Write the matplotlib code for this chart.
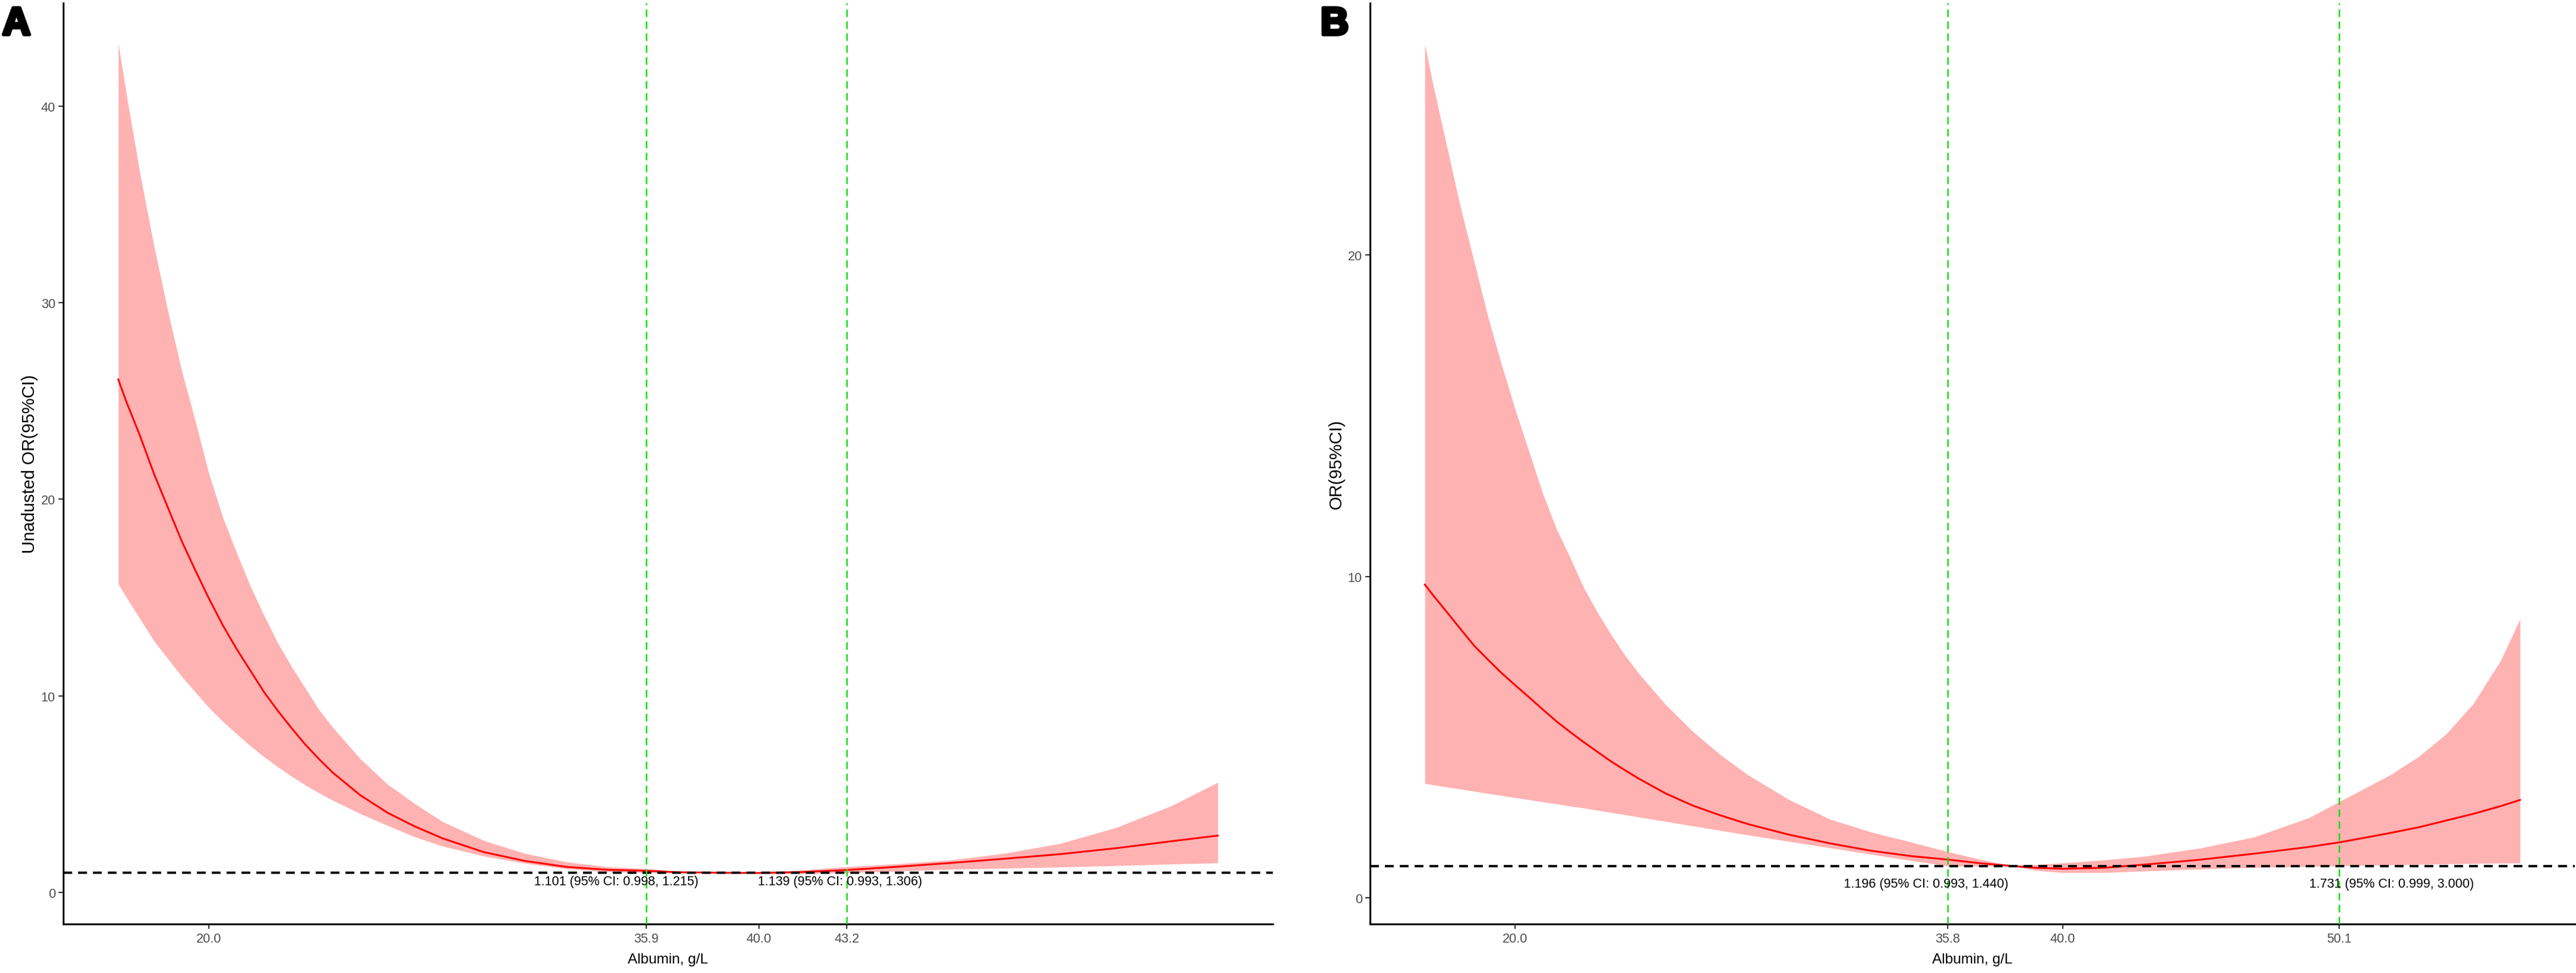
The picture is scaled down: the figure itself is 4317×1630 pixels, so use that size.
import matplotlib
matplotlib.use('Agg')
import matplotlib.pyplot as plt
import matplotlib.patheffects as pe
from matplotlib import font_manager

# ---- datos panel A (sin ajustar) ----
alb_a = [16.7, 17.0, 17.5, 18.0, 18.5, 19.0, 19.5, 20.0, 20.5, 21.0, 21.5, 22.0, 22.5,
         23.0, 23.5, 24.0, 24.5, 25.5, 26.5, 27.5, 28.5, 30.0, 31.5, 33.0, 34.5, 35.9,
         37.0, 38.5, 40.0, 41.5, 43.2, 45.0, 47.0, 49.0, 51.0, 53.0, 55.0, 56.7]
or_a = [26.1, 24.95, 23.2, 21.3, 19.6, 17.9, 16.4, 14.95, 13.6, 12.4, 11.3, 10.2, 9.25,
        8.37, 7.53, 6.79, 6.1, 4.95, 4.05, 3.35, 2.75, 2.05, 1.6, 1.3, 1.15, 1.101,
        1.03, 1.0, 0.99, 1.03, 1.139, 1.3, 1.5, 1.72, 1.95, 2.25, 2.6, 2.89]
lo_a = [15.7, 15.0, 13.9, 12.8, 11.9, 11.0, 10.2, 9.4, 8.7, 8.07, 7.46, 6.9, 6.39,
        5.91, 5.47, 5.06, 4.69, 4.01, 3.4, 2.82, 2.35, 1.85, 1.48, 1.2, 1.05, 0.998,
        0.99, 1.0, 0.95, 0.95, 0.993, 1.08, 1.18, 1.23, 1.29, 1.36, 1.44, 1.5]
hi_a = [43.2, 40.6, 36.5, 32.9, 29.6, 26.6, 24.0, 21.3, 19.1, 17.3, 15.6, 14.1, 12.7,
        11.5, 10.4, 9.3, 8.4, 6.8, 5.5, 4.5, 3.6, 2.64, 1.98, 1.55, 1.3, 1.215,
        1.08, 1.0, 1.04, 1.13, 1.306, 1.45, 1.65, 2.0, 2.5, 3.3, 4.4, 5.6]
cortes_a = [35.9, 43.2]
xticks_a = [20.0, 35.9, 40.0, 43.2]
yticks_a = [0, 10, 20, 30, 40]
textos_a = ['1.101 (95% CI: 0.998, 1.215)', '1.139 (95% CI: 0.993, 1.306)']
texto_x_a = [34.82, 42.96]
texto_y_a = 0.55

# ---- datos panel B (ajustado) ----
alb_b = [16.7, 17.0, 17.5, 18.0, 18.5, 19.0, 19.5, 20.0, 20.5, 21.0, 21.5, 22.0, 22.5,
         23.0, 23.5, 24.0, 24.5, 25.5, 26.5, 27.5, 28.5, 30.0, 31.5, 33.0, 34.5, 35.8,
         37.0, 38.1, 39.0, 40.0, 41.5, 43.0, 45.0, 47.0, 49.0, 50.1, 51.0, 52.0, 53.0,
         54.0, 55.0, 56.0, 56.7]
or_b = [9.75, 9.42, 8.9, 8.37, 7.85, 7.42, 7.0, 6.62, 6.25, 5.87, 5.5, 5.17, 4.85,
        4.55, 4.25, 3.98, 3.72, 3.25, 2.87, 2.57, 2.3, 1.97, 1.7, 1.47, 1.3, 1.196,
        1.08, 1.0, 0.94, 0.91, 0.94, 1.04, 1.19, 1.38, 1.59, 1.731, 1.87, 2.03, 2.2,
        2.41, 2.62, 2.86, 3.05]
lo_b = [3.56, 3.52, 3.45, 3.39, 3.32, 3.25, 3.19, 3.12, 3.06, 2.99, 2.93, 2.86, 2.8,
        2.73, 2.66, 2.59, 2.52, 2.38, 2.24, 2.1, 1.96, 1.76, 1.56, 1.36, 1.16, 0.993,
        0.99, 1.0, 0.86, 0.79, 0.79, 0.84, 0.9, 0.95, 0.98, 0.999, 1.015, 1.03, 1.045,
        1.06, 1.075, 1.085, 1.09]
hi_b = [26.55, 25.3, 23.4, 21.5, 19.8, 18.1, 16.6, 15.2, 13.9, 12.6, 11.5, 10.6, 9.66,
        8.89, 8.2, 7.56, 7.0, 6.01, 5.17, 4.45, 3.83, 3.06, 2.45, 2.05, 1.73, 1.44,
        1.2, 1.0, 1.04, 1.09, 1.18, 1.3, 1.55, 1.9, 2.5, 3.0, 3.4, 3.85, 4.4,
        5.1, 6.05, 7.4, 8.68]
cortes_b = [35.8, 50.1]
xticks_b = [20.0, 35.8, 40.0, 50.1]
yticks_b = [0, 10, 20]
textos_b = ['1.196 (95% CI: 0.993, 1.440)', '1.731 (95% CI: 0.999, 3.000)']
texto_x_b = [35.0, 52.0]
texto_y_b = 0.45

W, H = 4317, 1631
nombres = {f.name for f in font_manager.fontManager.ttflist}
if 'Liberation Sans Narrow' in nombres:
    fuente_x, tam_x = 'Liberation Sans Narrow', 20
else:
    fuente_x, tam_x = 'Liberation Sans', 17.5
plt.rcParams['font.family'] = ['Liberation Sans', 'DejaVu Sans']


def panel(fig, rect, x, est, lo, hi, cortes, xticks, yticks, ylim, textos, tx, ty, ylabel, letra, letra_x):
    l, r, t, b = rect
    ax = fig.add_axes([l / W, 1 - b / H, (r - l) / W, (b - t) / H])
    ax.fill_between(x, lo, hi, color='#FF0000', alpha=0.3, linewidth=0, zorder=1)
    ax.plot(x, est, color='#FF0000', linewidth=2.2, zorder=2)
    ax.axhline(1, color='black', linewidth=2.8, dashes=(3.8, 2.6), zorder=3)
    for c in cortes:
        ax.axvline(c, color='#10E010', linewidth=1.8, dashes=(5, 3), zorder=4)
    for s, xx in zip(textos, tx):
        ax.text(xx, ty, s, ha='center', va='center', fontsize=15.5, color='black', zorder=5)

    ax.set_xlim(14.7, 58.7)
    ax.set_ylim(*ylim)
    ax.set_xticks(xticks)
    ax.set_xticklabels(['%.1f' % v for v in xticks])
    ax.set_yticks(yticks)
    ax.tick_params(axis='both', labelsize=15.5, labelcolor='#4D4D4D', color='#333333',
                   length=6, width=1.5)
    ax.tick_params(axis='x', pad=4)
    ax.tick_params(axis='y', pad=3.5)
    for lado in ['top', 'right']:
        ax.spines[lado].set_visible(False)
    for lado in ['left', 'bottom']:
        ax.spines[lado].set_linewidth(2.2)
        ax.spines[lado].set_color('black')

    cx = (l + r) / 2 / W
    fig.text(cx, 1 - 1608 / H, 'Albumin, g/L', ha='center', va='center',
             fontsize=tam_x, family=[fuente_x, 'DejaVu Sans'])
    fig.text((l - 56) / W, 1 - (t + b) / 2 / H, ylabel, rotation=90, ha='center',
             va='center', fontsize=21)
    fig.text(letra_x / W, 1 - 42 / H, letra, ha='left', va='center', fontsize=47,
             fontweight='bold', path_effects=[pe.withStroke(linewidth=4, foreground='black')])
    return ax


fig = plt.figure(figsize=(W / 100, H / 100), dpi=100)
panel(fig, (106, 2133, 6, 1549), alb_a, or_a, lo_a, hi_a, cortes_a, xticks_a, yticks_a,
      (-1.61, 45.25), textos_a, texto_x_a, texto_y_a, 'Unadusted OR(95%CI)', 'A', 4)
panel(fig, (2296, 4315, 6, 1549), alb_b, or_b, lo_b, hi_b, cortes_b, xticks_b, yticks_b,
      (-0.81, 27.84), textos_b, texto_x_b, texto_y_b, 'OR(95%CI)', 'B', 2213)
fig.savefig('out.png', dpi=100, facecolor='white')
